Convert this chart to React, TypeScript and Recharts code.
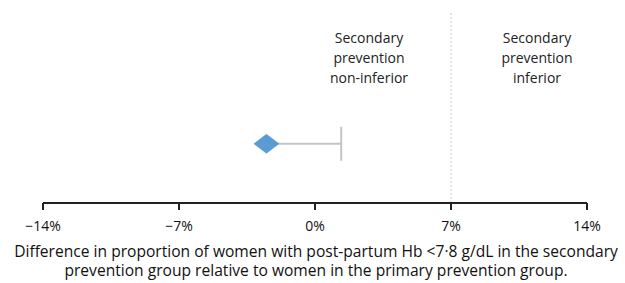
import React from 'react';
import { ComposedChart, Scatter, XAxis, YAxis, ErrorBar, ReferenceLine } from 'recharts';

const xTicks = [-14, -7, 0, 7, 14];
const outcomes = ['Post-partum Hb <7·8 g/dL'];
const pointEstimates = [-2.5];
const upperLimits = [1.35];
const rowLevels = [0.31];
const margin = 7;
const regionLabelsLeft = ['Secondary', 'prevention', 'non-inferior'];
const regionLabelsRight = ['Secondary', 'prevention', 'inferior'];
const titleLines = [
  'Difference in proportion of women with post-partum Hb <7·8 g/dL in the secondary',
  'prevention group relative to women in the primary prevention group.',
];

const data = outcomes.map((name, i) => ({
  name,
  x: pointEstimates[i],
  y: rowLevels[i],
  err: [0, upperLimits[i] - pointEstimates[i]],
}));

const capData = outcomes.map((name, i) => ({
  name,
  x: upperLimits[i],
  y: rowLevels[i],
}));

const FONT = '"Open Sans", sans-serif';

const Diamond = (props: any) => {
  const { cx, cy } = props;
  const w = 12.5;
  const h = 9.5;
  return (
    <polygon
      points={`${cx - w},${cy} ${cx},${cy - h} ${cx + w},${cy} ${cx},${cy + h}`}
      fill="#5B9BD5"
      stroke="#4A8AC8"
      strokeWidth={0.5}
    />
  );
};

const Cap = (props: any) => {
  const { cx, cy } = props;
  return <line x1={cx} x2={cx} y1={cy - 17} y2={cy + 17} stroke="#c4c4c4" strokeWidth={2} />;
};

const NoShape = () => <g />;

const fmt = (v: number) => (v < 0 ? `\u2212${Math.abs(v)}%` : `${v}%`);

const RegionLabels = (props: any) => {
  const { viewBox } = props;
  const x = viewBox.x;
  const top = 43;
  const renderBlock = (lines: string[], cx: number) =>
    lines.map((t, i) => (
      <text key={t + cx} x={cx} y={top + i * 20} textAnchor="middle" fontFamily={FONT} fontSize={14} fill="#222">
        {t}
      </text>
    ));
  return (
    <g>
      {renderBlock(regionLabelsLeft, x - 82)}
      {renderBlock(regionLabelsRight, x + 86)}
    </g>
  );
};

const AxisTitle = () => (
  <g>
    {titleLines.map((t, i) => (
      <text key={i} x={316} y={257 + i * 18.5} textAnchor="middle" fontFamily={FONT} fontSize={15.6} fill="#111">
        {t}
      </text>
    ))}
  </g>
);

export default function App() {
  return (
    <div style={{ position: 'fixed', top: 0, left: 0, width: 625, height: 283, background: '#fff' }}>
      <ComposedChart width={625} height={283} data={data} margin={{ top: 12, right: 38, bottom: 0, left: 43 }}>
        <XAxis
          dataKey="x"
          type="number"
          domain={[-14, 14]}
          ticks={xTicks}
          tickFormatter={fmt}
          height={80}
          axisLine={{ stroke: '#222', strokeWidth: 2 }}
          tickLine={{ stroke: '#222', strokeWidth: 2 }}
          tickSize={7}
          tick={{ fill: '#111', fontSize: 14, fontFamily: FONT }}
          tickMargin={11}
          interval={0}
          label={<AxisTitle />}
        />
        <YAxis type="number" dataKey="y" domain={[0, 1]} hide />
        <ReferenceLine x={margin} stroke="#c8c8c8" strokeWidth={1} strokeDasharray="2 2" label={<RegionLabels />} />
        <Scatter data={data} dataKey="y" isAnimationActive={false} shape={<NoShape />}>
          <ErrorBar dataKey="err" direction="x" width={0} stroke="#c4c4c4" strokeWidth={2} isAnimationActive={false} />
        </Scatter>
        <Scatter data={capData} dataKey="y" isAnimationActive={false} shape={<Cap />} />
        <Scatter data={data} dataKey="y" isAnimationActive={false} shape={<Diamond />} />
      </ComposedChart>
    </div>
  );
}
